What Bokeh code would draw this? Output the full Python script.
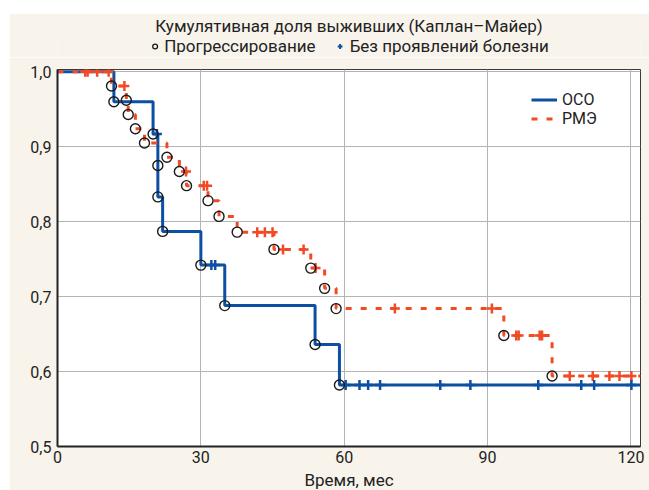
from bokeh.plotting import figure
from bokeh.models import (Range1d, FixedTicker, Legend, LegendItem, Spacer)
from bokeh.layouts import column, row
from bokeh.embed import file_html
from bokeh.resources import INLINE
import numpy as np

# ---- data ----
oso_time = [0, 11.8, 20.0, 21.0, 21.0, 22.0, 30.0, 35.0, 53.9, 59.0]
oso_surv = [1.0, 0.960, 0.917, 0.875, 0.833, 0.787, 0.742, 0.688, 0.636, 0.582]
oso_cens = [20.8, 32.2, 33.0, 60.3, 63.2, 65.0, 67.5, 80.1, 86.4, 100.6, 109.6, 112.3, 120.1]

rme_time = [0, 11.3, 14.4, 14.8, 16.3, 18.2, 22.9, 25.5, 27.0, 31.5, 33.8, 37.6,
            45.3, 53.0, 55.9, 58.3, 93.4, 103.5]
rme_surv = [1.0, 0.981, 0.962, 0.943, 0.924, 0.905, 0.886, 0.867, 0.848, 0.828, 0.807, 0.786,
            0.763, 0.738, 0.711, 0.684, 0.648, 0.594]
rme_cens = [5.8, 6.3, 8.3, 10.7, 14.0, 26.9, 30.6, 31.3, 41.8, 43.4, 45.0, 47.2, 51.5, 54.0,
            70.6, 90.9, 96.0, 96.5, 100.9, 101.4, 107.2, 112.0, 115.5, 117.6, 120.1]

x_ticks = [0, 30, 60, 90, 120]
y_ticks = [0.5, 0.6, 0.7, 0.8, 0.9, 1.0]
y_tick_labels = ["0,5", "0,6", "0,7", "0,8", "0,9", "1,0"]

title_text = "Кумулятивная доля выживших (Каплан–Майер)"
legend_top = ["Прогрессирование", "Без проявлений болезни"]
series_names = ["ОСО", "РМЭ"]
x_label = "Время, мес"

X_MAX = 122.0
BLUE = "#0d4fa2"
RED = "#f04b24"
BEIGE = "#f8f4ec"
TXT = "#222222"
FONT = "Roboto"


def step_level(times, survs, t):
    idx = np.searchsorted(np.array(times), t, side="right") - 1
    return survs[idx]


# ---------- main plot ----------
p = figure(output_backend="svg", toolbar_location=None,
           x_range=Range1d(0, X_MAX), y_range=Range1d(0.5, 1.003),
           frame_width=583, frame_height=377,
           min_border_left=48, min_border_right=9, min_border_bottom=44, min_border_top=12)
p.border_fill_color = BEIGE
p.background_fill_color = "white"
p.outline_line_color = "#3a3a3a"
p.outline_line_width = 1

p.xgrid.ticker = FixedTicker(ticks=x_ticks)
p.ygrid.ticker = FixedTicker(ticks=y_ticks)
p.grid.grid_line_color = "#b4b4b4"
p.grid.grid_line_width = 1

p.xaxis.ticker = FixedTicker(ticks=x_ticks)
p.yaxis.ticker = FixedTicker(ticks=y_ticks)
p.yaxis.major_label_overrides = {v: s for v, s in zip(y_ticks, y_tick_labels)}
for ax in (p.xaxis[0], p.yaxis[0]):
    ax.axis_line_color = TXT
    ax.axis_line_width = 2
    ax.major_tick_in = 0
    ax.major_tick_out = 0
    ax.minor_tick_in = 0
    ax.minor_tick_out = 0
    ax.major_label_text_font = FONT
    ax.major_label_text_font_size = "16px"
    ax.major_label_text_color = TXT
p.xaxis.major_label_standoff = 4
p.yaxis.major_label_standoff = 6
p.xaxis.axis_label = x_label
p.xaxis.axis_label_text_font = FONT
p.xaxis.axis_label_text_font_size = "17px"
p.xaxis.axis_label_text_font_style = "normal"
p.xaxis.axis_label_text_color = TXT
p.xaxis.axis_label_standoff = 4

ox = list(oso_time) + [X_MAX]
oy = list(oso_surv) + [oso_surv[-1]]
rx = list(rme_time) + [X_MAX]
ry = list(rme_surv) + [rme_surv[-1]]

r_oso = p.step(ox, oy, mode="after", line_color=BLUE, line_width=3)
r_rme = p.step(rx, ry, mode="after", line_color=RED, line_width=3, line_dash="6 9")

oso_cy = [step_level(oso_time, oso_surv, t) for t in oso_cens]
rme_cy = [step_level(rme_time, rme_surv, t) for t in rme_cens]
p.scatter(rme_cens, rme_cy, marker="cross", size=10, line_color=RED, line_width=2.5)
p.scatter(oso_cens, oso_cy, marker="cross", size=10, line_color=BLUE, line_width=2.5)

ev_x = list(oso_time[1:]) + list(rme_time[1:])
ev_y = list(oso_surv[1:]) + list(rme_surv[1:])
p.scatter(ev_x, ev_y, marker="circle", size=10, fill_color=None,
          line_color="#1a1a1a", line_width=1.4)

leg_in = Legend(items=[LegendItem(label=series_names[0], renderers=[r_oso]),
                       LegendItem(label=series_names[1], renderers=[r_rme])],
                location=(472, 316), orientation="vertical",
                background_fill_alpha=0, border_line_alpha=0,
                padding=2, spacing=0, margin=0,
                glyph_width=26, glyph_height=15, label_height=15,
                label_standoff=5,
                label_text_font=FONT, label_text_font_size="16px",
                label_text_color=TXT)
p.add_layout(leg_in, "center")

# ---------- header: title + marker key ----------
h = figure(output_backend="svg", toolbar_location=None, width=640, height=44,
           x_axis_type=None, y_axis_type=None,
           x_range=Range1d(0, 1), y_range=Range1d(0, 1),
           min_border=0, min_border_top=0, min_border_bottom=0,
           min_border_left=0, min_border_right=0)
h.border_fill_color = BEIGE
h.background_fill_color = BEIGE
h.outline_line_color = None
h.grid.visible = False
h.title.text = title_text
h.title.align = "center"
h.title.text_font = FONT
h.title.text_font_size = "17px"
h.title.text_font_style = "normal"
h.title.text_color = TXT
h.title.standoff = 0
h.title.offset = 0

# key glyph renderers (their single point lies outside the visible header range)
k_ev = h.scatter([-5], [-5], marker="circle", size=7, fill_color=None,
                 line_color="#1a1a1a", line_width=1.3)
k_cens = h.scatter([-5], [-5], marker="cross", size=8, line_color=BLUE, line_width=2)

leg_top = Legend(items=[LegendItem(label=legend_top[0], renderers=[k_ev]),
                        LegendItem(label=legend_top[1], renderers=[k_cens])],
                 orientation="horizontal", location="center",
                 background_fill_alpha=0, border_line_alpha=0,
                 padding=0, spacing=18, margin=0,
                 glyph_width=12, glyph_height=18, label_height=18,
                 label_standoff=4,
                 label_text_font=FONT, label_text_font_size="17px",
                 label_text_color=TXT)
h.add_layout(leg_top, "center")

layout = column(Spacer(width=649, height=13),
                row(Spacer(width=9, height=10), column(h, p, spacing=0), spacing=0),
                spacing=0)
open("out.html", "w").write(file_html(layout, INLINE))
